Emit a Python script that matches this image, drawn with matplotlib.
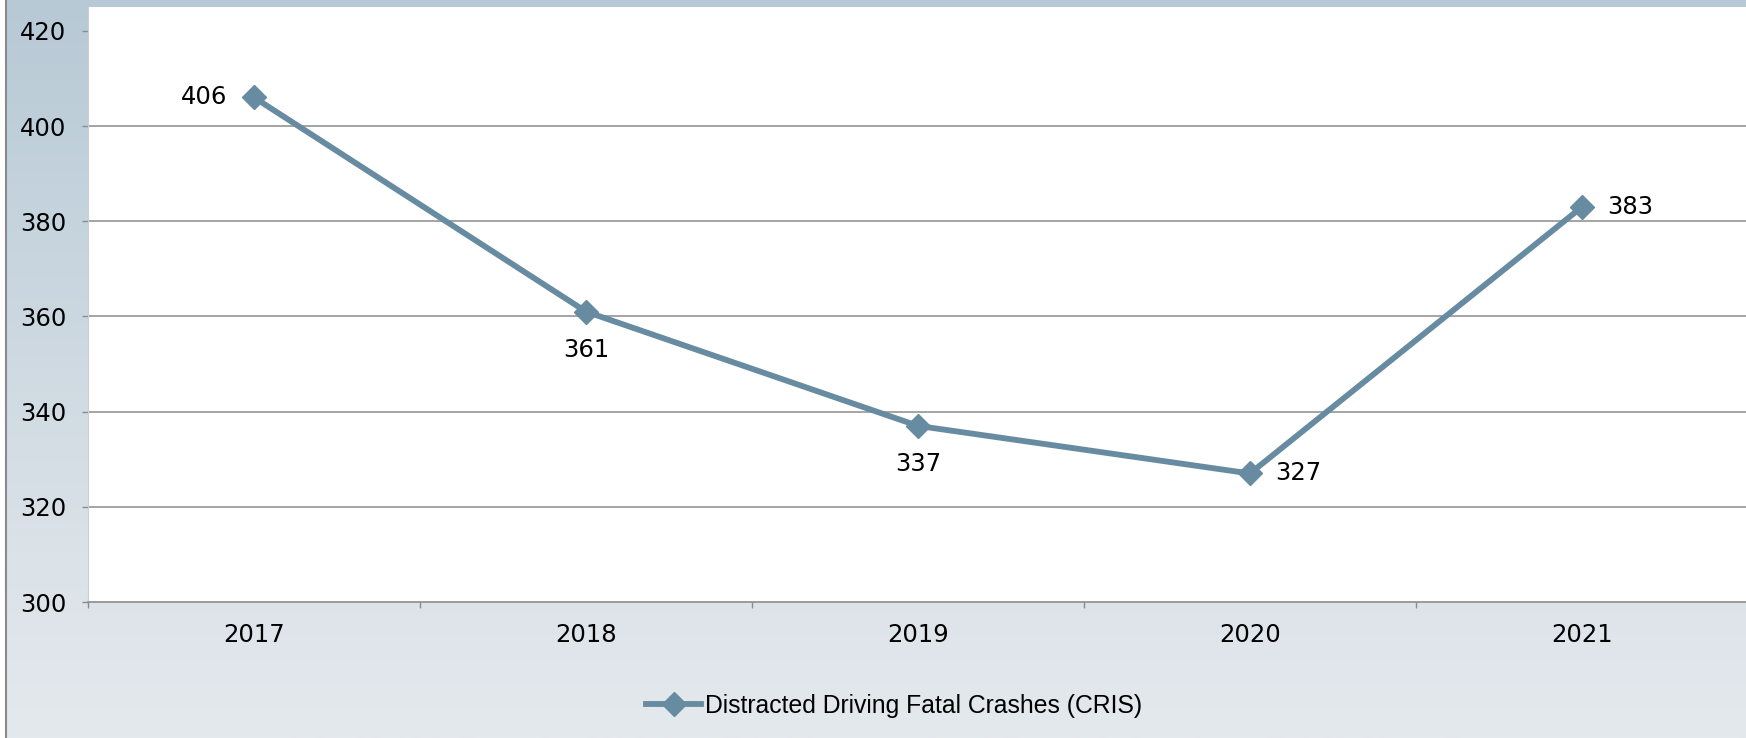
import numpy as np
import matplotlib
matplotlib.use("Agg")
import matplotlib.pyplot as plt
from matplotlib.colors import LinearSegmentedColormap
from matplotlib.lines import Line2D

years = ["2017", "2018", "2019", "2020", "2021"]
crashes = [406, 361, 337, 327, 383]
label_pos = ["left", "below", "below", "right", "right"]
series_name = "Distracted Driving Fatal Crashes (CRIS)"
yticks = [300, 320, 340, 360, 380, 400, 420]
gridlines = [320, 340, 360, 380, 400]

W, H = 1746, 738
fig = plt.figure(figsize=(W / 100, H / 100), dpi=100)
fig.patch.set_facecolor("white")

# background gradient
bg = fig.add_axes([5 / W, 0, 1 - 5 / W, 1], zorder=-10)
cmap = LinearSegmentedColormap.from_list(
    "bg", [(0, "#b7c9d5"), (0.25, "#c3d2dc"), (0.75, "#dbe2e8"), (1, "#e4e9ed")])
grad = np.linspace(0, 1, 256).reshape(-1, 1)
bg.imshow(grad, aspect="auto", cmap=cmap, extent=[0, 1, 1, 0])
bg.set_axis_off()
# left border line
fig.add_artist(Line2D([5.5 / W, 5.5 / W], [0, 1], color="#8a8a8a", lw=1.5))

ax = fig.add_axes([88 / W, (H - 602) / H, (1748 - 88) / W, (602 - 7) / H])
ax.set_facecolor("white")
x = np.arange(len(years))
line_color = "#678ba0"
ax.plot(x, crashes, color=line_color, lw=4.2, marker="D", markersize=12,
        label=series_name, solid_joinstyle="miter", zorder=5, clip_on=False)

ax.set_xlim(-0.5, len(years) - 0.5)
ax.set_ylim(300, 425)

for g in gridlines:
    ax.axhline(g, color="#8c8c8c", lw=1.1, zorder=1)

ax.set_yticks(yticks)
ax.set_yticklabels([str(v) for v in yticks])
ax.set_xticks(x)
ax.set_xticklabels(years)
ax.set_xticks(np.arange(-0.5, len(years) + 0.5, 1), minor=True)

ax.tick_params(axis="y", which="major", length=4.5, width=1.0, color="#8c8c8c",
               direction="out", pad=11, labelsize=17.5, labelcolor="black")
ax.tick_params(axis="x", which="major", length=0, pad=15, labelsize=17.5,
               labelcolor="black")
ax.tick_params(axis="x", which="minor", length=4.5, width=1.0, color="#8c8c8c",
               direction="out")

for s in ["top", "right"]:
    ax.spines[s].set_visible(False)
ax.spines["bottom"].set_color("#8c8c8c")
ax.spines["bottom"].set_linewidth(1.2)
ax.spines["left"].set_color("#c9d0d6")
ax.spines["left"].set_linewidth(0.8)

for xi, v, pos in zip(x, crashes, label_pos):
    if pos == "left":
        off, ha, va = (-19, 0), "right", "center"
    elif pos == "right":
        off, ha, va = (18, 0), "left", "center"
    else:
        off, ha, va = (0, -19), "center", "top"
    ax.annotate(str(v), (xi, v), xytext=off, textcoords="offset points",
                ha=ha, va=va, fontsize=17.5, color="black", zorder=6)

handle = Line2D([], [], color=line_color, lw=4.2, marker="D", markersize=12)
leg = fig.legend([handle], [series_name], loc="center",
                 bbox_to_anchor=(894 / W, 1 - 706 / H), frameon=False,
                 handlelength=2.25, handletextpad=0.15,
                 prop={"family": ["Liberation Sans", "DejaVu Sans"], "size": 17.8})

fig.savefig("out.png", dpi=100)
